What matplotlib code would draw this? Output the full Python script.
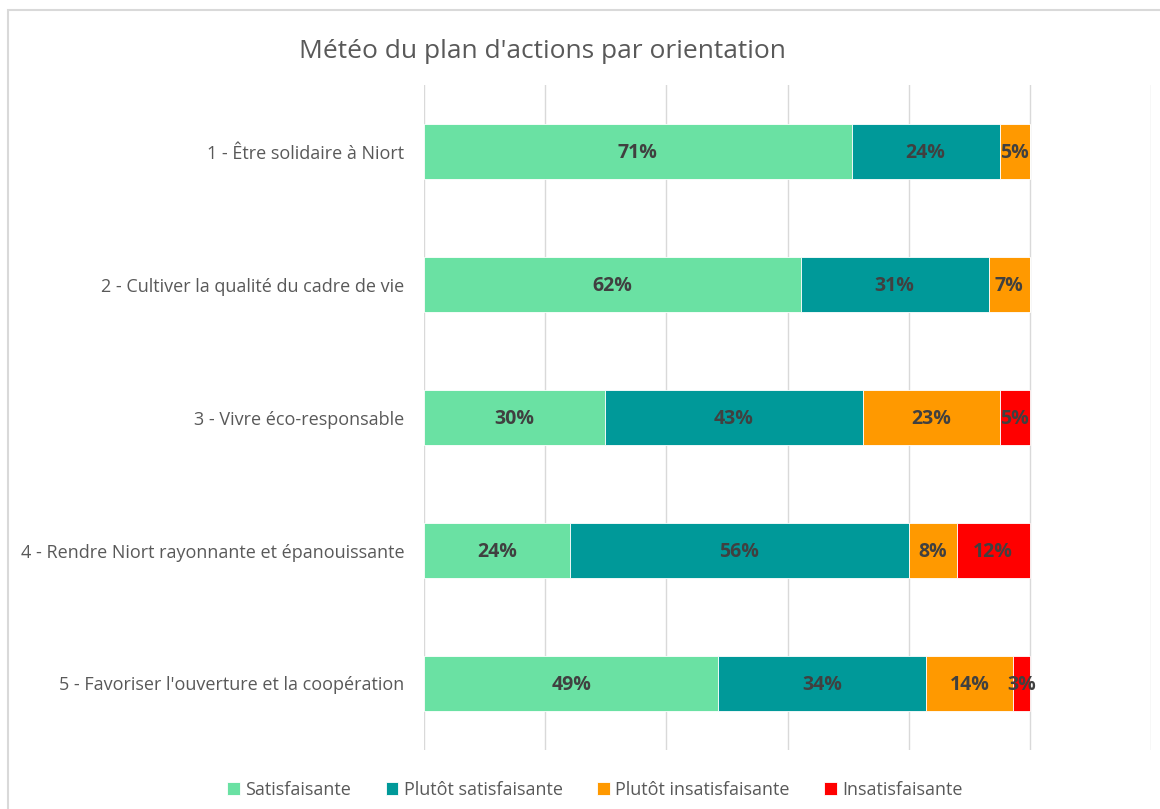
import matplotlib
matplotlib.use('Agg')
import matplotlib.pyplot as plt
from matplotlib.patches import Rectangle

# Data (share of actions, %)
categories = [
    "1 - Être solidaire à Niort",
    "2 - Cultiver la qualité du cadre de vie",
    "3 - Vivre éco-responsable",
    "4 - Rendre Niort rayonnante et épanouissante",
    "5 - Favoriser l'ouverture et la coopération",
]
series_names = ["Satisfaisante", "Plutôt satisfaisante",
                "Plutôt insatisfaisante", "Insatisfaisante"]
satisfaisante = [70.6, 62.2, 29.8, 24.1, 48.6]
plutot_satisfaisante = [24.4, 31.0, 42.6, 55.9, 34.3]
plutot_insatisfaisante = [5.0, 6.8, 22.6, 7.9, 14.4]
insatisfaisante = [0.0, 0.0, 5.0, 12.1, 2.7]
xticks = [0, 20, 40, 60, 80, 100, 120]

colors = ['#6AE1A3', '#009999', '#FF9900', '#FF0000']
label_color = '#404040'
text_color = '#595959'

plt.rcParams['font.family'] = ['Open Sans', 'DejaVu Sans']

fig = plt.figure(figsize=(11.6, 8.09), dpi=100)
ax = fig.add_axes([424 / 1160, 59 / 809, 727 / 1160, 665 / 809])

# chart area border
fig.patches.append(Rectangle((8 / 1160, -0.1), 1.2, (809 - 10) / 809 + 0.1,
                             transform=fig.transFigure, fill=False,
                             edgecolor='#D9D9D9', linewidth=1.5))

ypos = list(range(len(categories)))
all_series = [satisfaisante, plutot_satisfaisante,
              plutot_insatisfaisante, insatisfaisante]
left = [0.0] * len(categories)
for name, vals, col in zip(series_names, all_series, colors):
    ax.barh(ypos, vals, left=left, height=0.41, color=col,
            edgecolor='white', linewidth=0.6, label=name, zorder=3)
    for y, v, l in zip(ypos, vals, left):
        if v > 0:
            ax.text(l + v / 2, y + 0.01, f'{v:.0f}%', ha='center', va='center',
                    fontsize=14, fontweight='bold', color=label_color,
                    zorder=4)
    left = [a + b for a, b in zip(left, vals)]

ax.set_xlim(0, 120)
ax.set_ylim(len(categories) - 0.5, -0.5)
ax.set_xticks(xticks)
ax.set_xticklabels([])
ax.set_yticks(ypos)
ax.set_yticklabels(categories, fontsize=13, color=text_color)
ax.tick_params(axis='both', length=0, pad=14)
ax.grid(axis='x', color='#D9D9D9', linewidth=1, zorder=0)
for s in ax.spines.values():
    s.set_visible(False)

fig.text(542 / 1160, 1 - 51 / 809, "Météo du plan d'actions par orientation",
         ha='center', va='center', fontsize=19, color=text_color)

handles, labels = ax.get_legend_handles_labels()
fig.legend(handles, labels, loc='center', bbox_to_anchor=(595 / 1160, 1 - 790 / 809),
           ncol=4, frameon=False, fontsize=13, handlelength=0.7,
           handleheight=0.7, handletextpad=0.3, columnspacing=1.9,
           labelcolor=text_color)

fig.savefig('out.png', dpi=100)
